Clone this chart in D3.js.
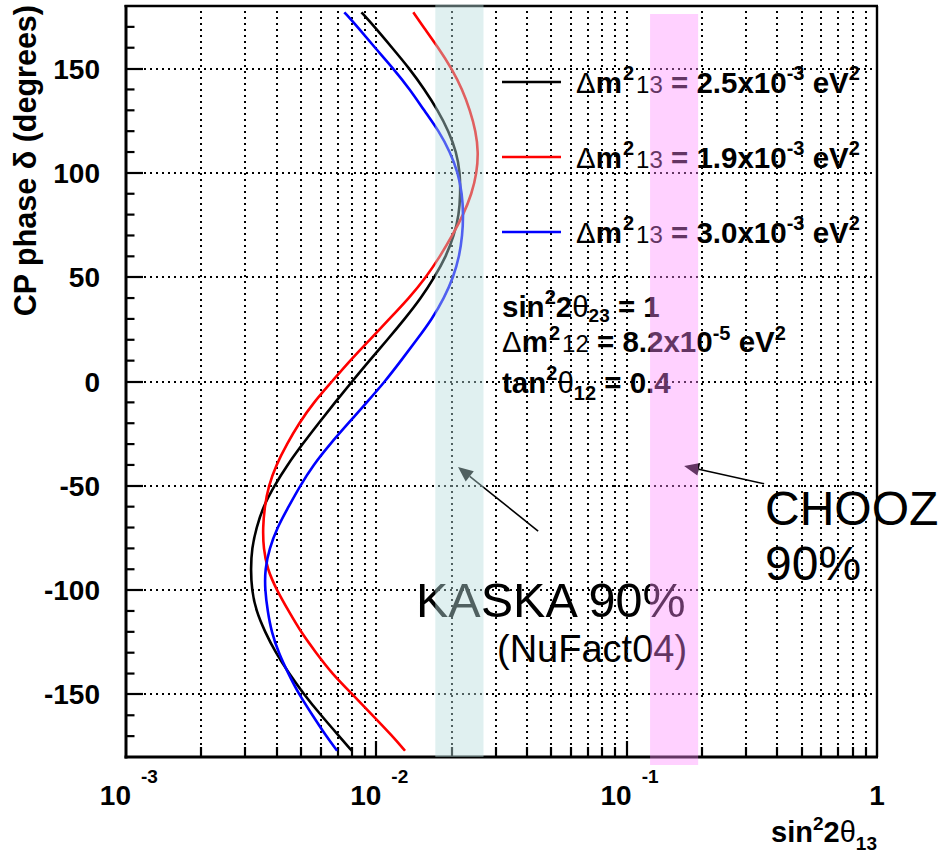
<!DOCTYPE html>
<html>
<head>
<meta charset="utf-8">
<script src="https://cdn.jsdelivr.net/npm/d3@7"></script>
<style>
  html, body { margin: 0; padding: 0; background: #fff; }
  svg { display: block; }
  text { font-family: "Liberation Sans", Arial, Helvetica, sans-serif; white-space: pre; }
</style>
</head>
<body>
<script>
// CP phase values (degrees) at which each sensitivity curve is sampled
const deltaDeg = [-177, -170, -160, -150, -140, -130, -120, -110, -100, -90, -80, -70, -60, -50,
  -40, -30, -20, -10, 0, 10, 20, 30, 40, 50, 60, 70, 80, 90, 100, 110, 120, 130, 140, 150, 160, 170, 177];

// sin^2 2theta13 reach for each Delta m^2_13
const reach25 = [0.00798, 0.00710, 0.00601, 0.00514, 0.00448, 0.00396, 0.00359, 0.00331, 0.00318, 0.00315,
  0.00318, 0.00332, 0.00353, 0.00391, 0.00441, 0.00507, 0.00588, 0.00684, 0.00800, 0.00938, 0.01107,
  0.01299, 0.01509, 0.01708, 0.01899, 0.02044, 0.02140, 0.02166, 0.02160, 0.02089, 0.01945, 0.01761,
  0.01558, 0.01357, 0.01156, 0.00984, 0.00872];
const reach19 = [0.01302, 0.01161, 0.00966, 0.00803, 0.00665, 0.00574, 0.00499, 0.00446, 0.00400, 0.00367,
  0.00354, 0.00352, 0.00358, 0.00371, 0.00398, 0.00439, 0.00491, 0.00562, 0.00665, 0.00785, 0.00941,
  0.01127, 0.01351, 0.01580, 0.01797, 0.02012, 0.02227, 0.02405, 0.02519, 0.02556, 0.02496, 0.02368,
  0.02206, 0.02001, 0.01769, 0.01541, 0.01405];
const reach30 = [0.00697, 0.00630, 0.00556, 0.00491, 0.00445, 0.00407, 0.00381, 0.00368, 0.00359, 0.00359,
  0.00374, 0.00402, 0.00446, 0.00496, 0.00560, 0.00653, 0.00773, 0.00916, 0.01083, 0.01255, 0.01450,
  0.01670, 0.01864, 0.02031, 0.02146, 0.02206, 0.02227, 0.02200, 0.02121, 0.01970, 0.01780, 0.01551,
  0.01363, 0.01169, 0.00988, 0.00841, 0.00745];

const seriesLabels = ["2.5", "1.9", "3.0"];
const seriesColors = ["#000000", "#ff0000", "#0000ff"];
const seriesValues = [reach25, reach19, reach30];

// sensitive / excluded regions (sin^2 2theta13 ranges)
const kaskaRange = [0.0172, 0.0268];
const choozRange = [0.124, 0.193];

// axis ticks
const yMajorTicks = [-150, -100, -50, 0, 50, 100, 150];
const yMinorTicks = d3.range(-170, 180, 10).filter(v => v % 50 !== 0);
const xDecades = [1e-3, 1e-2, 1e-1, 1];
const xDecadeExp = ["-3", "-2", "-1", null];

const W = 941, H = 854;
const L = 126, R = 877, T = 6, B = 757;
const FS = 29.5;   // main label size

const svg = d3.select("body").append("svg").attr("width", W).attr("height", H);
svg.append("rect").attr("width", W).attr("height", H).attr("fill", "#fff");

const x = d3.scaleLog().domain([1e-3, 1]).range([L, R]);
const y = d3.scaleLinear().domain([-180, 180]).range([B, T]);

// minor x positions 2..9 in each decade
const xMinor = [];
[1e-3, 1e-2, 1e-1].forEach(d => { for (let k = 2; k <= 9; k++) xMinor.push(k * d); });
const xGrid = xMinor.concat([1e-2, 1e-1]);

// dotted grid
const grid = svg.append("g").attr("stroke", "#000").attr("stroke-width", 2)
  .attr("stroke-dasharray", "2 4").attr("shape-rendering", "crispEdges");
grid.selectAll("line.v").data(xGrid).join("line")
  .attr("x1", d => Math.round(x(d))).attr("x2", d => Math.round(x(d))).attr("y1", B).attr("y2", T);
grid.selectAll("line.h").data(yMajorTicks).join("line")
  .attr("x1", L).attr("x2", R).attr("y1", d => Math.round(y(d))).attr("y2", d => Math.round(y(d)));

// ticks
const ticks = svg.append("g").attr("stroke", "#000").attr("stroke-width", 2.2);
ticks.selectAll("line.ym").data(yMajorTicks).join("line")
  .attr("x1", L).attr("x2", L + 17).attr("y1", d => Math.round(y(d))).attr("y2", d => Math.round(y(d)));
ticks.selectAll("line.yn").data(yMinorTicks).join("line")
  .attr("x1", L).attr("x2", L + 8.5).attr("y1", d => y(d)).attr("y2", d => y(d));
ticks.selectAll("line.xn").data(xMinor).join("line")
  .attr("x1", d => Math.round(x(d))).attr("x2", d => Math.round(x(d))).attr("y1", B).attr("y2", B - 10);
ticks.selectAll("line.xm").data([1e-2, 1e-1]).join("line")
  .attr("x1", d => Math.round(x(d))).attr("x2", d => Math.round(x(d))).attr("y1", B).attr("y2", B - 16);

// curves
const line = d3.line()
  .x(d => x(d[0]))
  .y(d => y(d[1]))
  .curve(d3.curveBasis);
seriesValues.forEach((vals, i) => {
  svg.append("path")
    .datum(vals.map((v, j) => [v, deltaDeg[j]]))
    .attr("d", line)
    .attr("fill", "none")
    .attr("stroke", seriesColors[i])
    .attr("stroke-width", 2.6);
});

// frame
const frame = svg.append("g").attr("stroke", "#000").attr("fill", "none");
frame.append("line").attr("x1", L).attr("x2", L).attr("y1", T - 1).attr("y2", B + 1.5).attr("stroke-width", 3);
frame.append("line").attr("x1", L - 1.5).attr("x2", R + 1).attr("y1", B).attr("y2", B).attr("stroke-width", 3);
frame.append("line").attr("x1", L - 1.5).attr("x2", R + 1).attr("y1", T).attr("y2", T).attr("stroke-width", 2.4);
frame.append("line").attr("x1", R).attr("x2", R).attr("y1", T).attr("y2", B).attr("stroke-width", 2.4);

// rich text helper: parts = [{t, size, w, dy, dx}] with dy the offset from the base line
function rich(g, px, py, parts, anchor) {
  const t = g.append("text").attr("x", px).attr("y", py).attr("text-anchor", anchor || "start").attr("fill", "#000");
  let cur = 0;
  parts.forEach(p => {
    const off = p.dy || 0;
    t.append("tspan").text(p.t)
      .attr("font-size", p.size || FS)
      .attr("font-weight", p.w || "bold")
      .attr("dy", off - cur)
      .attr("dx", p.dx || 0);
    cur = off;
  });
  return t;
}

// y tick labels
svg.append("g").selectAll("text").data(yMajorTicks).join("text")
  .attr("x", 100).attr("y", d => y(d) + 10)
  .attr("text-anchor", "end").attr("font-size", 28).attr("font-weight", "bold")
  .text(d => d);

// x tick labels
const xl = svg.append("g");
xDecades.forEach((d, i) => {
  if (xDecadeExp[i] === null) {
    xl.append("text").attr("x", x(d)).attr("y", 805).attr("text-anchor", "middle")
      .attr("font-size", 28).attr("font-weight", "bold").text("1");
  } else {
    xl.append("text").attr("x", x(d) + 5).attr("y", 805).attr("text-anchor", "end")
      .attr("font-size", 28).attr("font-weight", "bold").text("10");
    xl.append("text").attr("x", x(d) + 15).attr("y", 783)
      .attr("font-size", 19).attr("font-weight", "bold").text(xDecadeExp[i]);
  }
});

// axis titles
rich(svg, R, 842, [
  { t: "sin", size: 29 }, { t: "2", size: 19, dy: -12 }, { t: "2", size: 29 }, { t: "θ", size: 29, w: "normal" },
  { t: "13", size: 19, dy: 8 }
], "end");

svg.append("text")
  .attr("transform", `translate(36,${T - 1}) rotate(-90)`)
  .attr("text-anchor", "end").attr("font-size", 30.5).attr("font-weight", "bold")
  .text("CP phase δ (degrees)");

// legend
const leg = svg.append("g");
const legY = [82, 157, 232];
seriesLabels.forEach((lab, i) => {
  leg.append("line").attr("x1", 502).attr("x2", 561).attr("y1", legY[i]).attr("y2", legY[i])
    .attr("stroke", seriesColors[i]).attr("stroke-width", 2.6);
  rich(leg, 576, legY[i] + 11, [
    { t: "Δ", w: "normal" }, { t: "m" }, { t: "2", size: 20, dy: -13, dx: 1 },
    { t: "13", size: 24, w: "normal", dy: 0, dx: 2 },
    { t: " = " + lab + "x10" }, { t: "-3", size: 20, dy: -13 },
    { t: " eV" }, { t: "2", size: 20, dy: -13 }
  ]);
});

// oscillation parameters
const par = svg.append("g");
rich(par, 502, 317, [
  { t: "sin" }, { t: "2", size: 20, dy: -13 }, { t: "2" }, { t: "θ", w: "normal" },
  { t: "23", size: 19, dy: 5 }, { t: " = 1" }
]);
rich(par, 502, 352, [
  { t: "Δ", w: "normal" }, { t: "m" }, { t: "2", size: 20, dy: -12, dx: 1 },
  { t: "12", size: 24, w: "normal", dy: 0, dx: 2 },
  { t: " = 8.2x10" }, { t: "-5", size: 20, dy: -12 },
  { t: " eV" }, { t: "2", size: 20, dy: -12 }
]);
rich(par, 502, 393, [
  { t: "tan" }, { t: "2", size: 20, dy: -13 }, { t: "θ", w: "normal" },
  { t: "12", size: 20, dy: 7 }, { t: " = 0.4" }
]);

// annotations
const ann = svg.append("g").attr("font-weight", "normal").attr("fill", "#000");
ann.append("text").attr("x", 416).attr("y", 617).attr("font-size", 48.5).text("KASKA 90%");
ann.append("text").attr("x", 497).attr("y", 662).attr("font-size", 38).text("(NuFact04)");
ann.append("text").attr("x", 765).attr("y", 525).attr("font-size", 48).text("CHOOZ");
ann.append("text").attr("x", 765).attr("y", 580).attr("font-size", 48).text("90%");

function arrow(from, to) {
  const x0 = x(from[0]), y0 = y(from[1]), x1 = x(to[0]), y1 = y(to[1]);
  const a = Math.atan2(y1 - y0, x1 - x0);
  const len = 15, half = 6.5;
  const bx = x1 - len * Math.cos(a), by = y1 - len * Math.sin(a);
  svg.append("line").attr("x1", x0).attr("y1", y0).attr("x2", bx).attr("y2", by)
    .attr("stroke", "#000").attr("stroke-width", 1.6);
  svg.append("path")
    .attr("d", `M${x1},${y1}L${bx + half * Math.sin(a)},${by - half * Math.cos(a)}L${bx - half * Math.sin(a)},${by + half * Math.cos(a)}Z`)
    .attr("fill", "#000");
}
arrow([0.0443, -71.7], [0.0212, -41]);
arrow([0.354, -49], [0.1696, -40.5]);

// translucent bands laid over everything
svg.append("rect")
  .attr("x", x(kaskaRange[0])).attr("width", x(kaskaRange[1]) - x(kaskaRange[0]))
  .attr("y", T - 1.5).attr("height", B - T + 1.5)
  .attr("fill", "rgb(184,221,221)").attr("fill-opacity", 0.435);
svg.append("rect")
  .attr("x", x(choozRange[0])).attr("width", x(choozRange[1]) - x(choozRange[0]))
  .attr("y", 14).attr("height", 765 - 14)
  .attr("fill", "rgb(255,136,255)").attr("fill-opacity", 0.39);
</script>
</body>
</html>
